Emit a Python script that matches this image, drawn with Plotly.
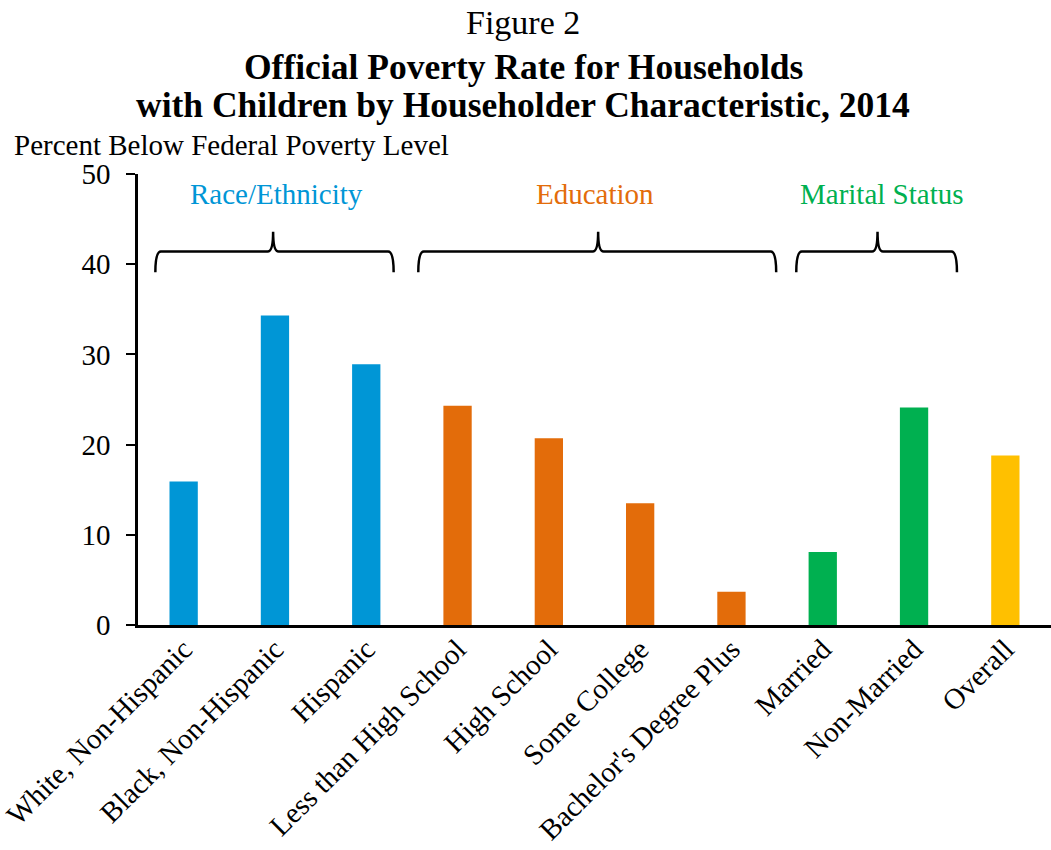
import plotly.graph_objects as go

categories = ["White, Non-Hispanic", "Black, Non-Hispanic", "Hispanic",
              "Less than High School", "High School", "Some College",
              "Bachelor's Degree Plus", "Married", "Non-Married", "Overall"]
values = [15.9, 34.3, 28.9, 24.3, 20.7, 13.5, 3.7, 8.1, 24.1, 18.8]
groups = ["race", "race", "race", "edu", "edu", "edu", "edu", "mar", "mar", "all"]

group_colors = {"race": "#0096D6", "edu": "#E36C0A", "mar": "#00B050", "all": "#FFC000"}
group_labels = {"race": "Race/Ethnicity", "edu": "Education", "mar": "Marital Status"}
# brace extents (category-axis units) for each labelled group: left, tip, right
brace_spans = {"race": (-0.31, 0.98, 2.30), "edu": (2.57, 4.54, 6.49), "mar": (6.71, 7.60, 8.47)}
label_x = {"race": 1.02, "edu": 4.50, "mar": 7.65}

FONT = "Liberation Serif"
x = list(range(len(categories)))

fig = go.Figure()
fig.add_trace(go.Bar(
    x=x, y=values, width=0.31,
    marker=dict(color=[group_colors[g] for g in groups], line=dict(width=0)),
    showlegend=False, hoverinfo="x+y",
))

# braces
y_end, y_bar, y_tip = 39.1, 41.4, 43.6
r = 0.06
for g, (a, m, b) in brace_spans.items():
    path = (f"M {a},{y_end} Q {a},{y_bar} {a+r},{y_bar} "
            f"L {m-r},{y_bar} Q {m},{y_bar} {m},{y_tip} "
            f"Q {m},{y_bar} {m+r},{y_bar} "
            f"L {b-r},{y_bar} Q {b},{y_bar} {b},{y_end}")
    fig.add_shape(type="path", path=path, xref="x", yref="y",
                  line=dict(color="black", width=2.5))
    fig.add_annotation(x=label_x[g], y=47.8, xref="x", yref="y", text=group_labels[g],
                       yanchor="middle", xanchor="center",
                       showarrow=False, font=dict(family=FONT, size=29, color=group_colors[g]))

# titles
title_x = (523 - 138) / 913
fig.add_annotation(x=title_x, y=1.337, xref="paper", yref="paper", text="Figure 2",
                   yanchor="middle", xanchor="center",
                   showarrow=False, font=dict(family=FONT, size=34, color="black"))
fig.add_annotation(x=title_x, y=1.238, xref="paper", yref="paper",
                   text="<b>Official Poverty Rate for Households</b>",
                   yanchor="middle", xanchor="center",
                   showarrow=False, font=dict(family=FONT, size=35.5, color="black"))
fig.add_annotation(x=title_x, y=1.152, xref="paper", yref="paper",
                   text="<b>with Children by Householder Characteristic, 2014</b>",
                   yanchor="middle", xanchor="center",
                   showarrow=False, font=dict(family=FONT, size=35.5, color="black"))
fig.add_annotation(x=(12 - 138) / 913, y=1.065, xref="paper", yref="paper",
                   xanchor="left", yanchor="middle", text="Percent Below Federal Poverty Level",
                   showarrow=False, font=dict(family=FONT, size=29, color="black"))

fig.update_layout(
    width=1051, height=850,
    margin=dict(l=138, r=0, t=174, b=225, pad=0),
    paper_bgcolor="white", plot_bgcolor="white",
    font=dict(family=FONT, size=29, color="black"),
    bargap=0.69,
)
fig.update_xaxes(
    range=[-0.5, 9.5], tickmode="array", tickvals=x, ticktext=categories,
    tickangle=-45, showline=True, linecolor="black", linewidth=2.5,
    ticks="", showgrid=False, zeroline=False, automargin=False,
    ticklabelstandoff=-7,
    tickfont=dict(family=FONT, size=29, color="black"),
)
fig.update_yaxes(
    range=[0, 50], dtick=10, tick0=0, showline=True, linecolor="black", linewidth=2.5,
    ticks="outside", ticklen=9, tickwidth=2, tickcolor="black",
    ticklabelstandoff=10, showgrid=False, zeroline=False, automargin=False,
    tickfont=dict(family=FONT, size=29, color="black"),
)

fig.write_html("out.html")
